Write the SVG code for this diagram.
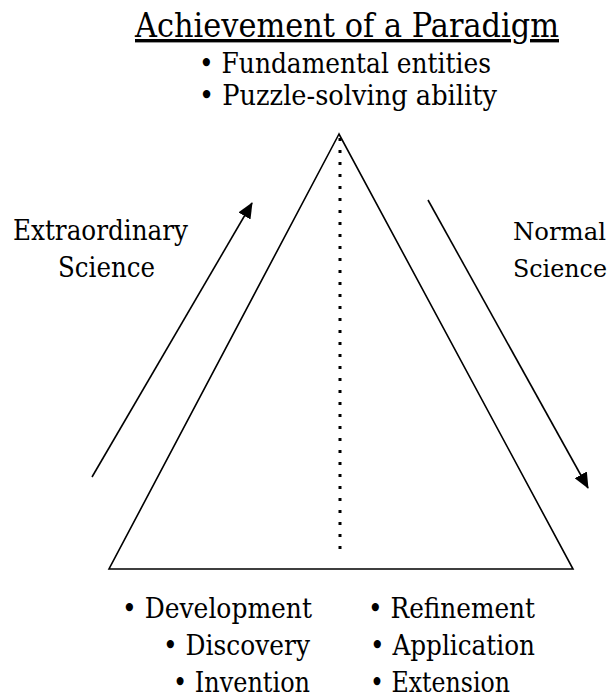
<svg xmlns="http://www.w3.org/2000/svg" width="615" height="698" viewBox="0 0 615 698">
  <style>
    text { fill: #000; font-family: "DejaVu Serif", "Liberation Serif", serif; }
    .title { font-size: 34px; text-decoration: underline; }
    .b { font-size: 28px; }
    .edge-label { font-size: 25px; }
    .edge { stroke: #000; stroke-width: 1.6; fill: none; }
  </style>
  <defs>
    <marker id="head" markerWidth="16" markerHeight="14" refX="15" refY="7" orient="auto" markerUnits="userSpaceOnUse">
      <path d="M0,0 L16,7 L0,14 Z" fill="#000"/>
    </marker>
  </defs>
  <rect width="615" height="698" fill="#fff"/>

  <g id="title">
    <text class="title" x="135" y="37" textLength="424" lengthAdjust="spacingAndGlyphs">Achievement of a Paradigm</text>
  </g>
  <g id="paradigm-points">
    <text class="b" x="199" y="73" textLength="292" lengthAdjust="spacingAndGlyphs">• Fundamental entities</text>
    <text class="b" x="199" y="105" textLength="298" lengthAdjust="spacingAndGlyphs">• Puzzle-solving ability</text>
  </g>

  <g id="triangle">
    <path class="edge" d="M339,134 L109,569 L573,569 Z" stroke-linejoin="miter"/>
    <line x1="340" y1="138" x2="340" y2="558" stroke="#000" stroke-width="3" stroke-dasharray="3,9"/>
  </g>

  <g id="extraordinary-label">
    <text class="b" x="13" y="240" textLength="175" lengthAdjust="spacingAndGlyphs">Extraordinary</text>
    <text class="b" x="58" y="277" textLength="97" lengthAdjust="spacingAndGlyphs">Science</text>
  </g>
  <g id="normal-label">
    <text class="b edge-label" x="513" y="240" textLength="93" lengthAdjust="spacingAndGlyphs">Normal</text>
    <text class="b edge-label" x="513" y="277" textLength="94" lengthAdjust="spacingAndGlyphs">Science</text>
  </g>

  <g id="connectors">
    <line class="edge" x1="92" y1="477" x2="252" y2="203" marker-end="url(#head)"/>
    <line class="edge" x1="428" y1="200" x2="588" y2="488" marker-end="url(#head)"/>
  </g>

  <g id="revolution-points">
    <text class="b" x="122" y="618" textLength="190" lengthAdjust="spacingAndGlyphs">• Development</text>
    <text class="b" x="163" y="655" textLength="147" lengthAdjust="spacingAndGlyphs">• Discovery</text>
    <text class="b" x="173" y="692" textLength="137" lengthAdjust="spacingAndGlyphs">• Invention</text>
  </g>
  <g id="normal-points">
    <text class="b" x="368" y="618" textLength="167" lengthAdjust="spacingAndGlyphs">• Refinement</text>
    <text class="b" x="370" y="655" textLength="165" lengthAdjust="spacingAndGlyphs">• Application</text>
    <text class="b" x="370" y="692" textLength="140" lengthAdjust="spacingAndGlyphs">• Extension</text>
  </g>
</svg>
